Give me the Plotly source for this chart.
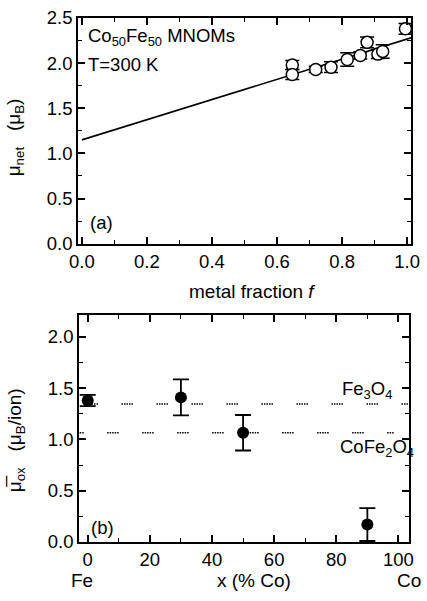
import plotly.graph_objects as go

# ---- data: panel (a)
f_metal = [0.647, 0.647, 0.719, 0.766, 0.816, 0.856, 0.877, 0.91, 0.925, 0.995]
mu_net = [1.98, 1.875, 1.93, 1.955, 2.04, 2.085, 2.23, 2.10, 2.13, 2.38]
mu_net_err = [0.05, 0.055, 0.035, 0.06, 0.075, 0.04, 0.06, 0.05, 0.075, 0.06]
fit_f = [0.0, 1.012]
fit_mu = [1.15, 2.28]

# ---- data: panel (b)
x_co = [0, 30, 50, 90]
mu_ox = [1.38, 1.41, 1.065, 0.17]
mu_ox_err = [0.055, 0.175, 0.173, 0.16]
fe3o4_level = 1.345
cofe2o4_level = 1.065
ref_x_fe3o4 = [-0.4, 104]
ref_x_cofe2o4 = [-5.0, 98.5]

FONT = "Liberation Sans, Arial, sans-serif"
FS = 18.5
NB = "\u00a0"

fig = go.Figure()

fig.add_trace(go.Scatter(x=fit_f, y=fit_mu, mode="lines",
                         line=dict(color="black", width=1.6),
                         xaxis="x", yaxis="y", showlegend=False))
fig.add_trace(go.Scatter(x=f_metal, y=mu_net, mode="markers",
                         marker=dict(symbol="circle", size=12, color="white",
                                     line=dict(color="black", width=1.5)),
                         error_y=dict(type="data", array=mu_net_err, color="black",
                                      thickness=1.5, width=7),
                         xaxis="x", yaxis="y", showlegend=False))

dash = "1.5px,1px,1.5px,1px,1.5px,1px,1.5px,1px,1.5px,23.5px"
fig.add_trace(go.Scatter(x=ref_x_fe3o4, y=[fe3o4_level] * 2, mode="lines",
                         line=dict(color="black", width=1.4, dash=dash),
                         xaxis="x2", yaxis="y2", showlegend=False))
fig.add_trace(go.Scatter(x=ref_x_cofe2o4, y=[cofe2o4_level] * 2, mode="lines",
                         line=dict(color="black", width=1.4, dash=dash),
                         xaxis="x2", yaxis="y2", showlegend=False))
fig.add_trace(go.Scatter(x=x_co, y=mu_ox, mode="markers",
                         marker=dict(symbol="circle", size=12, color="black"),
                         error_y=dict(type="data", array=mu_ox_err, color="black",
                                      thickness=1.8, width=8),
                         xaxis="x2", yaxis="y2", showlegend=False))

axis_common = dict(showline=True, linecolor="black", linewidth=1.6, mirror="ticks",
                   ticks="inside", ticklen=7, tickwidth=1.5, tickcolor="black",
                   showgrid=False, zeroline=False,
                   tickfont=dict(family=FONT, size=FS, color="black"))
minor_common = dict(ticklen=4, tickwidth=1.3, tickcolor="black", ticks="inside")

fig.update_layout(
    width=427, height=601,
    margin=dict(l=78, r=7, t=15, b=59),
    plot_bgcolor="white", paper_bgcolor="white",
    font=dict(family=FONT, size=FS, color="black"),
    xaxis=dict(domain=[0, 1], range=[-0.012, 1.012], tickvals=[0, 0.2, 0.4, 0.6, 0.8, 1.0],
               ticktext=["0.0", "0.2", "0.4", "0.6", "0.8", "1.0"],
               minor=dict(dtick=0.1, **minor_common),
               anchor="y", **axis_common),
    yaxis=dict(domain=[0.5693, 1], range=[0, 2.5], dtick=0.5, tickformat=".1f",
               minor=dict(dtick=0.25, **minor_common),
               anchor="x", **axis_common),
    xaxis2=dict(domain=[0.003, 0.994], range=[-2.8, 103.4], dtick=20,
                minor=dict(dtick=10, **minor_common),
                anchor="y2", **axis_common),
    yaxis2=dict(domain=[0, 0.4326], range=[0, 2.21], dtick=0.5, tickformat=".1f",
                minor=dict(dtick=0.25, **minor_common),
                anchor="x2", **axis_common),
)

ann = []
def add_text(text, x, y, xref, yref, xanchor="center", yanchor="middle", angle=0, size=FS):
    ann.append(dict(text=text, x=x, y=y, xref=xref, yref=yref, xanchor=xanchor,
                    yanchor=yanchor, textangle=angle, showarrow=False,
                    font=dict(family=FONT, size=size, color="black")))

# panel (a) texts
add_text("Co<sub>50</sub>Fe<sub>50</sub> MNOMs", 0.025, 0.915, "x domain", "y domain", xanchor="left")
add_text("T=300 K", 0.025, 0.793, "x domain", "y domain", xanchor="left")
add_text("(a)", 0.03, 0.095, "x domain", "y domain", xanchor="left")
add_text("metal fraction <i>f</i>", 0.523, -0.21, "x domain", "y domain", size=19)
add_text("μ<sub>net</sub>" + NB * 3 + "(μ<sub>B</sub>)", -0.19, 0.47, "x domain", "y domain", angle=-90, size=19)

# panel (b) texts
add_text("(b)", 0.03, 0.065, "x2 domain", "y2 domain", xanchor="left")
add_text("Fe<sub>3</sub>O<sub>4</sub>", 0.79, 0.67, "x2 domain", "y2 domain", xanchor="left")
add_text("CoFe<sub>2</sub>O<sub>4</sub>", 0.785, 0.415, "x2 domain", "y2 domain", xanchor="left")
add_text("x (% Co)", 0.53, -0.17, "x2 domain", "y2 domain", size=19)
add_text("Fe", 0.01, -0.17, "x2 domain", "y2 domain", size=19)
add_text("Co", 1.0, -0.17, "x2 domain", "y2 domain", size=19)
add_text("μ\u0305<sub>ox</sub>" + NB * 3 + "(μ<sub>B</sub>/ion)", -0.19, 0.45, "x2 domain", "y2 domain", angle=-90, size=19)

fig.update_layout(annotations=ann)
fig.write_html("out.html", config={"displayModeBar": False},
               post_script="document.body.style.margin='0';document.body.style.overflow='hidden';")
